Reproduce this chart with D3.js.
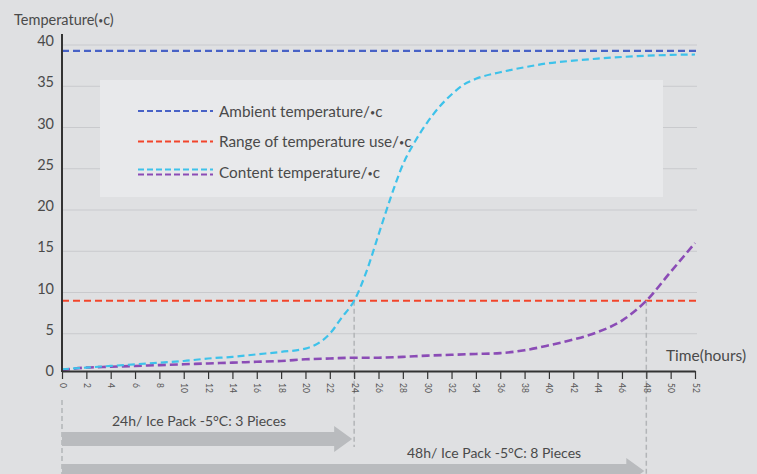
<!DOCTYPE html>
<html>
<head>
<meta charset="utf-8">
<script src="https://cdn.jsdelivr.net/npm/d3@7"></script>
<style>
  html, body { margin: 0; padding: 0; background: #dfe0e2; }
  svg { display: block; font-family: Lato, "Open Sans", sans-serif; }
</style>
</head>
<body>
<svg width="757" height="474"></svg>
<script>
// hours sampled along the two content curves
const hoursCyan = [0,2,4,6,8,10,12,14,16,18,20,21,22,23,24,25,26,27,28,29,30,31,32,33,34,36,38,40,42,44,46,48,50,52];
const cyanTemp  = [0.7,0.9,1.1,1.3,1.5,1.7,2.0,2.2,2.5,2.8,3.2,3.8,5.0,7.0,9.0,12.5,17,21.5,25.5,28.3,30.6,32.5,34.0,35.2,35.9,36.7,37.3,37.8,38.1,38.35,38.55,38.7,38.8,38.85];

const hoursPurple = [0,2,4,6,8,10,12,14,16,18,20,22,24,26,28,30,32,34,36,38,40,42,44,46,48,50,52];
const purpleTemp  = [0.6,0.9,1.0,1.1,1.2,1.3,1.4,1.5,1.6,1.7,1.9,2.0,2.1,2.1,2.2,2.35,2.45,2.55,2.65,3.0,3.6,4.3,5.2,6.6,9.0,12.5,16];

const ambientTemp = 39.3;
const useTemp = 9;

const yTicks = [0,5,10,15,20,25,30,35,40];
const xTicks = d3.range(0, 53, 2);

const legendItems = [
  {label: "Ambient temperature/", colors: ["#4862c6"]},
  {label: "Range of temperature use/", colors: ["#f2452b"]},
  {label: "Content temperature/", colors: ["#3ec2ea", "#8b4cb6"]}
];

const arrows = [
  {hours: 24, label: "24h/ Ice Pack -5°C: 3 Pieces"},
  {hours: 48, label: "48h/ Ice Pack -5°C: 8 Pieces"}
];

const svg = d3.select("svg");
const x = d3.scaleLinear().domain([0, 52]).range([62, 695]);
const y = d3.scaleLinear().domain([0, 40]).range([375, 45]);
const axisY = y(0) - 4;

// grid
svg.append("g")
  .selectAll("line")
  .data(yTicks.filter(d => d > 0))
  .enter()
  .append("line")
  .attr("x1", x(0)).attr("x2", x(52) + 2)
  .attr("y1", d => y(d)).attr("y2", d => y(d))
  .attr("stroke", "#c9cacd").attr("stroke-width", 1.2);

// legend box
const legend = svg.append("g");
legend.append("rect")
  .attr("x", 100).attr("y", 80).attr("width", 563).attr("height", 117)
  .attr("fill", "#e8e9eb");

legend.selectAll("g.item")
  .data(legendItems)
  .enter()
  .append("g")
  .classed("item", true)
  .attr("transform", (d, i) => `translate(138,${111 + i * 30.5})`)
  .each(function(d) {
    const g = d3.select(this);
    d.colors.forEach((c, j) => {
      const off = d.colors.length > 1 ? (j === 0 ? -2.5 : 2.5) : 0;
      g.append("line")
        .attr("x1", 0).attr("x2", 75).attr("y1", off).attr("y2", off)
        .attr("stroke", c).attr("stroke-width", 2.2)
        .attr("stroke-dasharray", "6,3");
    });
    const t = g.append("text")
      .attr("x", 81).attr("y", 5.5)
      .attr("font-size", 15.3).attr("fill", "#4a4a4a")
      .text(d.label);
    t.append("tspan").attr("font-size", 9).attr("dy", -1).text("•");
    t.append("tspan").attr("dy", 1).text("c");
  });

// reference lines
svg.append("line")
  .attr("x1", x(0)).attr("x2", x(52) + 2)
  .attr("y1", y(ambientTemp)).attr("y2", y(ambientTemp))
  .attr("stroke", "#4862c6").attr("stroke-width", 2.2).attr("stroke-dasharray", "7,4");

svg.append("line")
  .attr("x1", x(0)).attr("x2", x(52) + 2)
  .attr("y1", y(useTemp)).attr("y2", y(useTemp))
  .attr("stroke", "#f2452b").attr("stroke-width", 2.2).attr("stroke-dasharray", "7,4");

// vertical guides
const guides = svg.append("g")
  .attr("stroke", "#b3b5b8").attr("stroke-width", 1.5).attr("stroke-dasharray", "5,3");
guides.append("line").attr("x1", x(24)).attr("x2", x(24)).attr("y1", y(useTemp)).attr("y2", 447);
guides.append("line").attr("x1", x(48)).attr("x2", x(48)).attr("y1", y(useTemp)).attr("y2", 474);
guides.append("line").attr("x1", x(0)).attr("x2", x(0)).attr("y1", 400).attr("y2", 474);

// curves
const line = d3.line().x(d => x(d[0])).y(d => y(d[1])).curve(d3.curveMonotoneX);

svg.append("path")
  .datum(d3.zip(hoursPurple, purpleTemp))
  .attr("d", line)
  .attr("fill", "none").attr("stroke", "#8b4cb6").attr("stroke-width", 2.6)
  .attr("stroke-dasharray", "8,4");

svg.append("path")
  .datum(d3.zip(hoursCyan, cyanTemp))
  .attr("d", line)
  .attr("fill", "none").attr("stroke", "#3ec2ea").attr("stroke-width", 2.2)
  .attr("stroke-dasharray", "7,4");

// y axis
const yAxis = svg.append("g")
  .attr("transform", `translate(${x(0)},0)`)
  .call(d3.axisLeft(y).tickValues(yTicks).tickSize(0).tickPadding(8));
yAxis.select(".domain").remove();
yAxis.selectAll("text")
  .attr("dy", "0.05em")
  .attr("font-family", "Lato, sans-serif")
  .attr("font-size", 14.5).attr("fill", "#4a4a4a");
svg.append("line")
  .attr("x1", x(0)).attr("x2", x(0)).attr("y1", 34).attr("y2", axisY + 1)
  .attr("stroke", "#333").attr("stroke-width", 2);

// x axis
const xAxis = svg.append("g")
  .attr("transform", `translate(0,${axisY})`)
  .call(d3.axisBottom(x).tickValues(xTicks).tickSize(8).tickSizeOuter(0));
xAxis.select(".domain").attr("stroke", "#333").attr("stroke-width", 2);
xAxis.selectAll(".tick line").attr("stroke", "#333").attr("stroke-width", 1.2);
xAxis.selectAll("text")
  .attr("transform", "rotate(90)")
  .attr("x", 12).attr("y", 0).attr("dy", "0.35em")
  .attr("text-anchor", "start")
  .attr("font-family", "Lato, sans-serif")
  .attr("font-size", 8.5).attr("fill", "#555");

// axis titles
const ytitle = svg.append("text")
  .attr("x", 14).attr("y", 25)
  .attr("font-size", 14.5).attr("fill", "#4a4a4a")
  .text("Temperature(");
ytitle.append("tspan").attr("font-size", 8.5).attr("dy", -1).text("•");
ytitle.append("tspan").attr("dy", 1).text("c)");

svg.append("text")
  .attr("x", 666).attr("y", 361)
  .attr("font-size", 15.5).attr("fill", "#4a4a4a")
  .text("Time(hours)");

// duration arrows
const arrowTop = [432, 464];
arrows.forEach((a, i) => {
  const top = arrowTop[i];
  const tip = x(a.hours) - 2;
  const p = d3.path();
  p.moveTo(x(0), top);
  p.lineTo(tip - 18, top);
  p.lineTo(tip - 18, top - 6);
  p.lineTo(tip, top + 7);
  p.lineTo(tip - 18, top + 20);
  p.lineTo(tip - 18, top + 14);
  p.lineTo(x(0), top + 14);
  p.closePath();
  svg.append("path").attr("d", p.toString()).attr("fill", "#b9bbbe");
});

svg.append("text")
  .attr("x", 112).attr("y", 426)
  .attr("font-size", 14).attr("fill", "#4a4a4a")
  .text(arrows[0].label);
svg.append("text")
  .attr("x", 407).attr("y", 458)
  .attr("font-size", 14).attr("fill", "#4a4a4a")
  .text(arrows[1].label);
</script>
</body>
</html>
